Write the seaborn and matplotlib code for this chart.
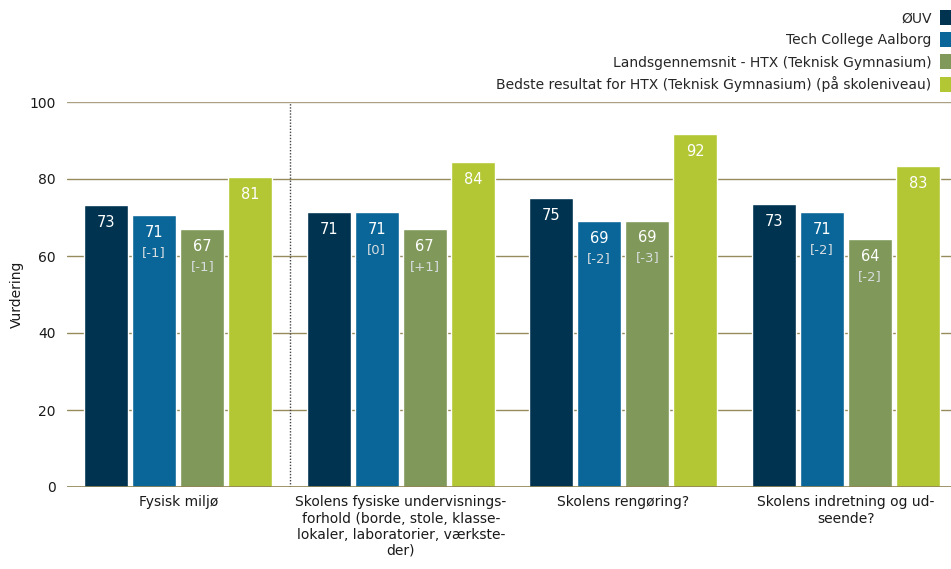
import matplotlib
matplotlib.use("Agg")
import matplotlib.pyplot as plt
import seaborn as sns
import pandas as pd
from matplotlib.patches import Patch

categories = [
    "Fysisk miljø",
    "Skolens fysiske undervisnings-\nforhold (borde, stole, klasse-\nlokaler, laboratorier, værkste-\nder)",
    "Skolens rengøring?",
    "Skolens indretning og ud-\nseende?",
]
series = [
    "ØUV",
    "Tech College Aalborg",
    "Landsgennemsnit - HTX (Teknisk Gymnasium)",
    "Bedste resultat for HTX (Teknisk Gymnasium) (på skoleniveau)",
]
colors = ["#003350", "#0a6699", "#80995a", "#b3c633"]

ouv = [73.2, 71.3, 75.0, 73.4]
tech = [70.6, 71.3, 69.0, 71.3]
lands = [66.9, 66.9, 69.2, 64.3]
best = [80.4, 84.4, 91.6, 83.3]

labels_ouv = ["73", "71", "75", "73"]
labels_tech = ["71", "71", "69", "71"]
labels_lands = ["67", "67", "69", "64"]
labels_best = ["81", "84", "92", "83"]

diff_tech = ["[-1]", "[0]", "[-2]", "[-2]"]
diff_lands = ["[-1]", "[+1]", "[-3]", "[-2]"]

values = [ouv, tech, lands, best]
value_labels = [labels_ouv, labels_tech, labels_lands, labels_best]
diff_labels = [None, diff_tech, diff_lands, None]

rows = []
for s, vals in zip(series, values):
    for c, v in zip(categories, vals):
        rows.append({"kategori": c, "serie": s, "vurdering": v})
df = pd.DataFrame(rows)

sns.set_style("white")
plt.rcParams["font.family"] = ["DejaVu Sans"]

fig = plt.figure(figsize=(9.51, 5.69), dpi=100)
ax = fig.add_axes([67 / 951, 1 - 487 / 569, (957 - 67) / 951, (487 - 102) / 569])

sns.barplot(data=df, x="kategori", y="vurdering", hue="serie", order=categories,
            hue_order=series, palette=colors, saturation=1, width=0.863, gap=0.08,
            legend=False, ax=ax)

ax.set_ylim(0, 100)
ax.set_xlim(-0.5, 3.5)
ax.set_yticks([0, 20, 40, 60, 80, 100])
for y in [20, 40, 60, 80]:
    ax.axhline(y, color="#958b5c", lw=1.0, zorder=0)
ax.axhline(100, color="#aa9f80", lw=1.0, zorder=0)
ax.axhline(0, color="#8c8150", lw=1.2, zorder=3)
ax.axvline(0.5, ymin=0, ymax=1, color="#444444", lw=1, linestyle=(0, (1, 1.2)), zorder=0)

for sp in ax.spines.values():
    sp.set_visible(False)
ax.tick_params(axis="both", length=0, labelsize=10, colors="#1a1a1a")
ax.tick_params(axis="x", pad=6)
ax.tick_params(axis="y", pad=8)
ax.set_xlabel("")
ax.set_ylabel("")
fig.text(17 / 951, 1 - 294 / 569, "Vurdering", rotation=90, ha="center", va="center",
         fontsize=10, color="#1a1a1a")

for si, cont in enumerate(ax.containers):
    for ci, bar in enumerate(cont):
        xc = bar.get_x() + bar.get_width() / 2
        top = bar.get_height()
        ax.annotate(value_labels[si][ci], (xc, top), xytext=(0, -17),
                    textcoords="offset pixels", ha="center", va="center",
                    color="white", fontsize=10.5)
        if diff_labels[si] is not None:
            ax.annotate(diff_labels[si][ci], (xc, top), xytext=(0, -37),
                        textcoords="offset pixels", ha="center", va="center",
                        color="#d8dde0", fontsize=9.5)

handles = [Patch(facecolor=c, edgecolor="none") for c in colors]
fig.legend(handles, series, loc="upper right", bbox_to_anchor=(1.0, 1 - 10 / 569),
           frameon=False, markerfirst=False, fontsize=10, handlelength=0.8,
           handleheight=1.3, handletextpad=0.6, labelspacing=0.5,
           borderaxespad=0.0, borderpad=0.0)

fig.savefig("out.png", dpi=100)
